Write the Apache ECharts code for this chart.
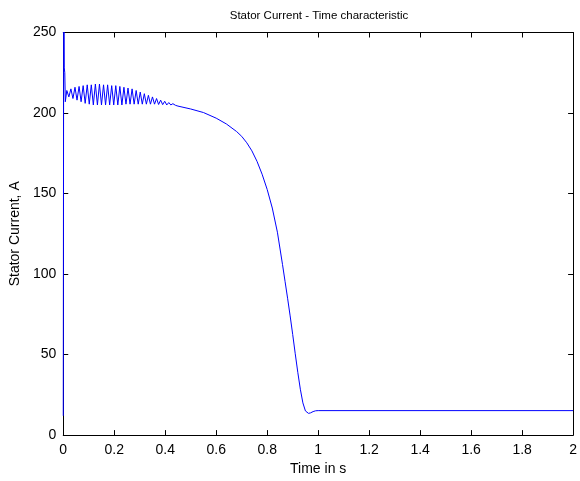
<!DOCTYPE html>
<html>
<head>
<meta charset="utf-8">
<script src="https://cdn.jsdelivr.net/npm/echarts@6/dist/echarts.min.js"></script>
<style>html,body{margin:0;padding:0;background:#fff}#c{width:580px;height:481px}</style>
</head>
<body>
<div id="c"></div>
<script>
const timeS = [0.000,0.002,0.004,0.006,0.008,
  0.014,0.022,0.030,0.038,0.046,0.054,0.062,0.070,0.078,0.086,0.094,0.102,0.110,0.118,0.126,0.134,
  0.142,0.150,0.158,0.166,0.174,0.182,0.190,0.198,0.206,0.214,0.222,0.230,0.238,0.246,0.254,0.262,
  0.270,0.278,0.286,0.294,0.302,0.310,0.318,0.326,0.334,0.342,0.350,0.358,0.366,0.374,0.382,0.390,
  0.398,0.406,0.414,0.422,0.430,0.440,0.450,0.500,0.550,0.600,0.640,0.680,0.700,0.720,0.740,0.760,
  0.780,0.800,0.820,0.840,0.860,0.870,0.880,0.890,0.900,0.910,0.920,0.930,0.940,0.950,0.955,0.962,
  0.970,0.980,0.990,1.000,2.000];
const currentA = [12,320,228,225,207,
  214,210,215,209,216,208,216.5,207,217,206,217.5,205.5,217.5,205,218,205,
  218,205,217.5,205,217.5,205,217,205,217,205,216.5,205,216,205.5,215.5,205.5,
  215,205.5,214,205.5,213,205.5,212,205.5,211,205.5,210,205.5,209,205.3,208,205.2,
  207.3,205,206.5,205,205.8,204.8,204.3,202.5,200.3,196.8,193.2,188.5,185.5,181.5,176.5,170,
  162,152.5,141,126,106,95.5,85,74,62.5,50.5,39,28.5,20,15,13.8,13.5,
  13.8,14.6,15.1,15.2,15.2];
const xTicks = [0,0.2,0.4,0.6,0.8,1,1.2,1.4,1.6,1.8,2];
const yTicks = [0,50,100,150,200,250];

const FONT = 'Liberation Sans, Arial, sans-serif';
const chart = echarts.init(document.getElementById('c'), null, {renderer:'canvas'});
const axisCommon = {
  axisLine:{show:true, onZero:false, lineStyle:{color:'#000', width:1}},
  axisTick:{show:true, inside:true, length:5, lineStyle:{color:'#000'}},
  splitLine:{show:false},
  axisLabel:{color:'#000', fontFamily:FONT, fontSize:14}
};
chart.setOption({
  animation:false,
  title:{text:'Stator Current - Time characteristic', left:314, top:5, textAlign:'center',
    textStyle:{fontFamily:FONT, fontSize:11.5, fontWeight:'normal', color:'#000'}},
  grid:{left:61.5, right:4.5, top:32.5, bottom:43.5},
  xAxis:[
    Object.assign({}, axisCommon, {type:'value', position:'bottom', min:xTicks[0], max:xTicks[xTicks.length-1], interval:0.2,
      name:'Time in s', nameLocation:'middle', nameGap:25,
      nameTextStyle:{fontFamily:FONT, fontSize:14, color:'#000'},
      axisLabel:Object.assign({}, axisCommon.axisLabel, {margin:8})}),
    Object.assign({}, axisCommon, {type:'value', position:'top', min:0, max:2, interval:0.2,
      axisLabel:{show:false}})
  ],
  yAxis:[
    Object.assign({}, axisCommon, {type:'value', position:'left', min:yTicks[0], max:yTicks[yTicks.length-1], interval:50,
      name:'Stator Current, A', nameLocation:'middle', nameGap:38,
      nameTextStyle:{fontFamily:FONT, fontSize:14, color:'#000'},
      axisLabel:Object.assign({}, axisCommon.axisLabel, {margin:7})}),
    Object.assign({}, axisCommon, {type:'value', position:'right', min:0, max:250, interval:50,
      axisLabel:{show:false}})
  ],
  series:[{
    type:'line', xAxisIndex:0, yAxisIndex:0,
    data: timeS.map((t,i)=>[t,currentA[i]]),
    showSymbol:false, symbol:'none', clip:true,
    lineStyle:{color:'#0000ff', width:1}
  }]
});
</script>
</body>
</html>
